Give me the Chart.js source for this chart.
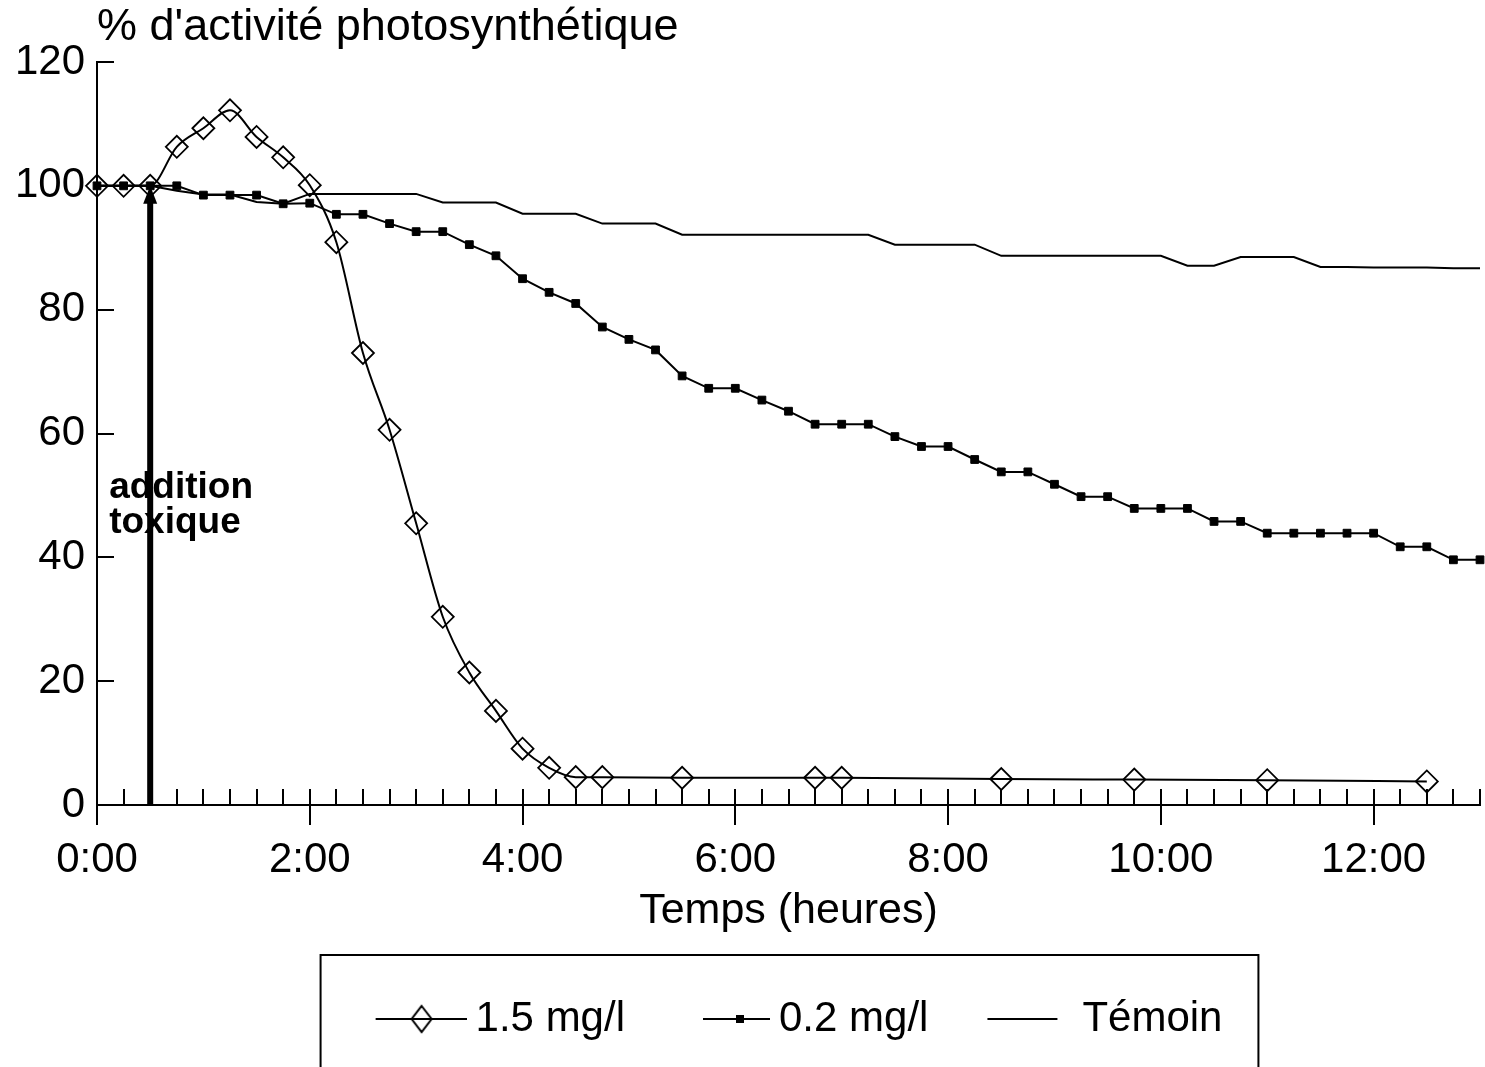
<!DOCTYPE html>
<html>
<head>
<meta charset="utf-8">
<script src="https://cdn.jsdelivr.net/npm/chart.js@4/dist/chart.umd.min.js"></script>
<style>
  html, body { margin: 0; padding: 0; background: #fff; }
  #chart { display: block; }
</style>
</head>
<body>
<canvas id="chart" width="1485" height="1067"></canvas>
<script>
// time in minutes since start
const times15 = [0,15,30,45,60,75,90,105,120,135,150,165,180,195,210,225,240,255,270,285,330,405,420,510,585,660,750];
const values15 = [100,100,100,106.3,109.3,112.2,107.9,104.6,100.1,90.9,73.0,60.6,45.5,30.4,21.4,15.2,9.1,6.0,4.5,4.5,4.4,4.4,4.4,4.2,4.1,4.0,3.8];

const timesAll = [0,15,30,45,60,75,90,105,120,135,150,165,180,195,210,225,240,255,270,285,300,315,330,345,360,375,390,405,420,435,450,465,480,495,510,525,540,555,570,585,600,615,630,645,660,675,690,705,720,735,750,765,780];
const values02 = [100,100,100,100,98.5,98.5,98.5,97.1,97.2,95.4,
  95.4,93.9,92.6,92.6,90.5,88.7,85.0,82.8,81.0,77.2,
  75.2,73.5,69.3,67.3,67.3,65.4,63.6,61.5,61.5,61.5,
  59.5,57.9,57.9,55.8,53.8,53.8,51.8,49.8,49.8,47.9,
  47.9,47.9,45.8,45.8,43.9,43.9,43.9,43.9,43.9,41.7,
  41.7,39.6,39.6];
const valuesTemoin = [100,100,100,99.2,98.6,98.6,97.4,97.1,98.7,98.7,
  98.7,98.7,98.7,97.3,97.3,97.3,95.5,95.5,95.5,93.9,
  93.9,93.9,92.1,92.1,92.1,92.1,92.1,92.1,92.1,92.1,
  90.5,90.5,90.5,90.5,88.7,88.7,88.7,88.7,88.7,88.7,
  88.7,87.1,87.1,88.5,88.5,88.5,86.9,86.9,86.8,86.8,
  86.8,86.7,86.7];

const seriesNames = ['1.5 mg/l', '0.2 mg/l', 'Témoin'];
const yTicks = [0, 20, 40, 60, 80, 100, 120];
const xMax = 780;
const additionTime = 30;     // toxic added at 0:30
const additionLevel = 100;

Chart.defaults.font.family = "'Liberation Sans', Arial, sans-serif";
Chart.defaults.color = '#000';

function pairs(xs, ys) {
  return xs.map((t, i) => ({x: t, y: ys[i]}));
}

// little pictures for the legend: line + marker
function makeIcon(from, to, marker, mx) {
  const c = document.createElement('canvas');
  c.width = 124; c.height = 30;
  const g = c.getContext('2d');
  g.strokeStyle = '#000';
  g.lineWidth = 2;
  g.beginPath(); g.moveTo(from, 15); g.lineTo(to, 15); g.stroke();
  if (marker == 'diamond') {
    g.beginPath();
    g.moveTo(mx, 2); g.lineTo(mx + 10, 15); g.lineTo(mx, 28); g.lineTo(mx - 10, 15);
    g.closePath(); g.stroke();
  }
  if (marker == 'square') {
    g.fillStyle = '#000';
    g.fillRect(mx - 4, 11, 8, 8);
  }
  return c;
}
const legendIcons = [
  makeIcon(33, 124, 'diamond', 79),
  makeIcon(57, 124, 'square', 94),
  makeIcon(38, 108, null, 0)
];

const extras = {
  id: 'extras',
  afterDatasetsDraw(chart) {
    const {ctx, scales: {x, y}} = chart;
    ctx.save();
    // label of the arrow
    const ax = x.getPixelForValue(additionTime);
    ctx.fillStyle = '#000';
    ctx.font = "bold 37px 'Liberation Sans', Arial, sans-serif";
    ctx.textBaseline = 'alphabetic';
    ctx.fillText('addition', ax - 41, y.getPixelForValue(49.6));
    ctx.fillText('toxique', ax - 41, y.getPixelForValue(44.0));
    // arrow
    const top = y.getPixelForValue(additionLevel);
    const bottom = y.getPixelForValue(0);
    ctx.fillRect(ax - 3, top + 14, 6, bottom - top - 14);
    ctx.beginPath();
    ctx.moveTo(ax, top);
    ctx.lineTo(ax + 7, top + 18);
    ctx.lineTo(ax - 7, top + 18);
    ctx.closePath();
    ctx.fill();
    ctx.restore();
  },
  afterDraw(chart) {
    const {ctx, scales: {x, y}} = chart;
    ctx.save();
    ctx.strokeStyle = '#000';
    ctx.lineWidth = 2;
    ctx.beginPath();
    // 15 minute ticks pointing up from the time axis
    for (let m = 0; m <= xMax; m += 15) {
      const px = Math.round(x.getPixelForValue(m));
      ctx.moveTo(px, y.bottom);
      ctx.lineTo(px, y.bottom - 16);
    }
    // value ticks pointing right from the value axis
    yTicks.forEach(v => {
      const py = Math.round(y.getPixelForValue(v));
      ctx.moveTo(x.left, py);
      ctx.lineTo(x.left + 17, py);
    });
    ctx.stroke();
    // frame round the legend
    const boxes = chart.legend.legendHitBoxes;
    if (boxes && boxes.length) {
      const first = boxes[0], last = boxes[boxes.length - 1];
      ctx.lineWidth = 2;
      ctx.strokeRect(first.left - 34, chart.legend.top - 10,
        last.left + last.width + 36 - (first.left - 34), 200);
    }
    ctx.restore();
  }
};

new Chart(document.getElementById('chart'), {
  type: 'line',
  data: {
    datasets: [
      {
        label: seriesNames[0],
        data: pairs(times15, values15),
        borderColor: '#000',
        borderWidth: 2,
        pointStyle: 'rectRot',
        pointRadius: 11,
        pointBorderWidth: 1.8,
        pointBorderColor: '#000',
        pointBackgroundColor: 'rgba(255,255,255,0)',
        cubicInterpolationMode: 'monotone',
        clip: false
      },
      {
        label: seriesNames[1],
        data: pairs(timesAll, values02),
        borderColor: '#000',
        borderWidth: 2,
        pointStyle: 'rect',
        pointRadius: 5.5,
        pointBorderWidth: 1,
        pointBorderColor: '#000',
        pointBackgroundColor: '#000',
        tension: 0,
        clip: false
      },
      {
        label: seriesNames[2],
        data: pairs(timesAll, valuesTemoin),
        borderColor: '#000',
        borderWidth: 2,
        pointRadius: 0,
        tension: 0,
        clip: false
      }
    ]
  },
  options: {
    responsive: false,
    animation: false,
    events: [],
    layout: { autoPadding: false, padding: { left: 0, right: 5, top: 0, bottom: 17 } },
    scales: {
      x: {
        type: 'linear',
        min: 0,
        max: xMax,
        afterFit: s => { s.height = 160; },
        border: { display: true, color: '#000', width: 2 },
        grid: { drawOnChartArea: false, drawTicks: true, tickLength: 20, color: '#000', tickColor: '#000', lineWidth: 2 },
        ticks: {
          stepSize: 120,
          includeBounds: false,
          padding: 10,
          maxRotation: 0,
          font: { size: 42 },
          color: '#000',
          callback: v => (v / 60) + ':00'
        },
        title: {
          display: true,
          text: 'Temps (heures)',
          font: { size: 43 },
          color: '#000',
          padding: { top: 0, bottom: 28 }
        }
      },
      y: {
        min: 0,
        max: 120,
        afterFit: s => { s.width = 97; },
        border: { display: true, color: '#000', width: 2 },
        grid: { display: false, drawTicks: false },
        ticks: {
          stepSize: 20,
          padding: 12,
          font: { size: 42 },
          color: '#000'
        }
      }
    },
    plugins: {
      tooltip: { enabled: false },
      title: {
        display: true,
        text: "% d'activité photosynthétique",
        align: 'start',
        fullSize: false,
        font: { size: 45, weight: 'normal' },
        color: '#000',
        padding: { top: 1, bottom: 7 }
      },
      legend: {
        display: true,
        position: 'bottom',
        fullSize: false,
        labels: {
          usePointStyle: true,
          pointStyleWidth: 100,
          padding: 33,
          color: '#000',
          font: { size: 42 },
          generateLabels: chart => chart.data.datasets.map((ds, i) => ({
            text: ds.label,
            pointStyle: legendIcons[i],
            datasetIndex: i,
            hidden: false,
            fontColor: '#000',
            lineWidth: 0,
            strokeStyle: 'rgba(0,0,0,0)',
            fillStyle: 'rgba(0,0,0,0)'
          }))
        }
      }
    }
  },
  plugins: [extras]
});
</script>
</body>
</html>
